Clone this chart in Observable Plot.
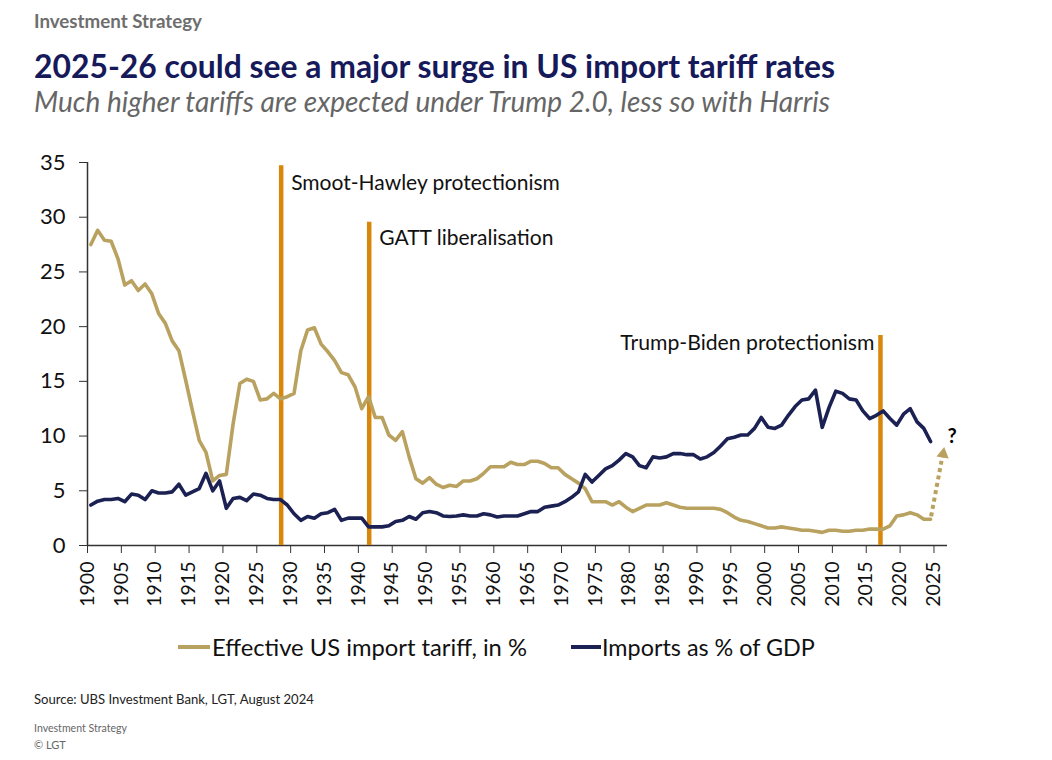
<!DOCTYPE html>
<html>
<head>
<meta charset="utf-8">
<script src="https://cdn.jsdelivr.net/npm/d3@7"></script>
<script src="https://cdn.jsdelivr.net/npm/@observablehq/plot@0.6"></script>
<style>
  body { margin: 0; background: #fff; font-family: Lato, "Open Sans", sans-serif; }
  #page { position: relative; width: 1052px; height: 760px; overflow: hidden; background: #fff; }
  .abs { position: absolute; white-space: nowrap; line-height: 1; }
  #kicker { left: 34px; top: 12px; font-weight: 700; color: #6e6e6e; font-size: 16px; }
  #title { left: 34px; top: 51px; font-weight: 700; color: #16195a; font-size: 29px; }
  #subtitle { left: 34px; top: 87px; font-style: italic; color: #666; font-size: 24px; }
  #chart { position: absolute; left: 0; top: 140px; }
  .sw { position: absolute; height: 4px; }
  .leg { font-size: 20px; color: #111; }
  #source { left: 34px; top: 693px; font-size: 13px; color: #222; }
  #foot1 { left: 34px; top: 723px; font-size: 11px; color: #666; }
  #foot2 { left: 34px; top: 739px; font-size: 11px; color: #666; }
</style>
</head>
<body>
<div id="page">
  <div id="kicker" class="abs">Investment Strategy</div>
  <div id="title" class="abs">2025-26 could see a major surge in US import tariff rates</div>
  <div id="subtitle" class="abs">Much higher tariffs are expected under Trump 2.0, less so with Harris</div>
  <div id="chart"></div>
  <div class="sw" id="sw1" style="left:178px; top:645px; width:32px; background:#b9a15f;"></div>
  <div id="leg1" class="abs leg" style="left:212px; top:636px;">Effective US import tariff, in %</div>
  <div class="sw" id="sw2" style="left:571px; top:645px; width:30px; background:#1b2152;"></div>
  <div id="leg2" class="abs leg" style="left:602px; top:636px;">Imports as % of GDP</div>
  <div id="source" class="abs">Source: UBS Investment Bank, LGT, August 2024</div>
  <div id="foot1" class="abs">Investment Strategy</div>
  <div id="foot2" class="abs">© LGT</div>
</div>
<script>
// ---------- data ----------
const firstYear = 1900;
const tariff = [
  27.5, 28.8, 27.9, 27.8, 26.2, 23.8, 24.2, 23.3, 23.9, 23.0,
  21.2, 20.3, 18.7, 17.8, 15.1, 12.3, 9.6, 8.5, 5.9, 6.4,
  6.5, 11.1, 14.8, 15.2, 15.0, 13.3, 13.4, 13.9, 13.4, 13.6,
  13.9, 17.8, 19.7, 19.9, 18.4, 17.7, 16.9, 15.8, 15.6, 14.5,
  12.5, 13.6, 11.7, 11.7, 10.1, 9.6, 10.4, 8.1, 6.1, 5.7,
  6.2, 5.6, 5.3, 5.5, 5.4, 5.9, 5.9, 6.1, 6.6, 7.2,
  7.2, 7.2, 7.6, 7.4, 7.4, 7.7, 7.7, 7.5, 7.1, 7.1,
  6.5, 6.1, 5.7, 5.2, 4.0, 4.0, 4.0, 3.7, 4.0, 3.5,
  3.1, 3.4, 3.7, 3.7, 3.7, 3.9, 3.7, 3.5, 3.4, 3.4,
  3.4, 3.4, 3.4, 3.3, 3.0, 2.6, 2.3, 2.2, 2.0, 1.8,
  1.6, 1.6, 1.7, 1.6, 1.5, 1.4, 1.4, 1.3, 1.2, 1.4,
  1.4, 1.3, 1.3, 1.4, 1.4, 1.5, 1.5, 1.5, 1.8, 2.7,
  2.8, 3.0, 2.8, 2.4, 2.4
];
const imports = [
  3.7, 4.05, 4.2, 4.2, 4.3, 4.0, 4.7, 4.6, 4.2, 5.0,
  4.8, 4.8, 4.9, 5.6, 4.6, 4.9, 5.2, 6.6, 5.0, 5.9,
  3.4, 4.3, 4.4, 4.1, 4.7, 4.6, 4.3, 4.2, 4.2, 3.7,
  2.9, 2.3, 2.65, 2.5, 2.9, 3.0, 3.3, 2.3, 2.5, 2.5,
  2.5, 1.7, 1.7, 1.7, 1.8, 2.2, 2.3, 2.65, 2.4, 3.0,
  3.1, 3.0, 2.7, 2.65, 2.7, 2.8, 2.7, 2.7, 2.9, 2.8,
  2.6, 2.7, 2.7, 2.7, 2.9, 3.1, 3.1, 3.5, 3.6, 3.7,
  4.0, 4.4, 4.9, 6.5, 5.8, 6.4, 7.0, 7.3, 7.8, 8.4,
  8.1, 7.3, 7.1, 8.1, 8.0, 8.1, 8.4, 8.4, 8.3, 8.3,
  7.9, 8.1, 8.5, 9.1, 9.75, 9.9, 10.1, 10.1, 10.7, 11.7,
  10.8, 10.7, 11.0, 11.9, 12.7, 13.3, 13.4, 14.2, 10.8, 12.6,
  14.1, 13.9, 13.4, 13.3, 12.3, 11.6, 11.9, 12.3, 11.6, 11.0,
  12.0, 12.5, 11.3, 10.7, 9.5
];
// expected tariff jump (dotted arrow): from last observation to the "?" level
const forecastYears = [2024, 2026];
const forecastTariff = [2.4, 9.0];
// policy events
const eventLabels = ["Smoot-Hawley protectionism", "GATT liberalisation", "Trump-Biden protectionism"];
const eventYears = [1928.1, 1941.1, 2016.6];
const eventTops = [34.7, 29.55, 19.2];
const eventLabelLevels = [33.1, 28.05, 18.5];
const xTicks = [1900, 1905, 1910, 1915, 1920, 1925, 1930, 1935, 1940, 1945, 1950, 1955, 1960,
  1965, 1970, 1975, 1980, 1985, 1990, 1995, 2000, 2005, 2010, 2015, 2020, 2025];
const yTicks = [0, 5, 10, 15, 20, 25, 30, 35];
const seriesNames = ["Effective US import tariff, in %", "Imports as % of GDP"];

// ---------- styles ----------
const GOLD = "#b9a15f", NAVY = "#1b2152", ORANGE = "#d8870a";
const FONT = "Lato, 'Open Sans', sans-serif";

// ---------- build rows ----------
const tariffRows = tariff.map((v, i) => ({year: firstYear + i, value: v}));
const importRows = imports.map((v, i) => ({year: firstYear + i, value: v}));
const fc = [{y1: forecastYears[0], v1: forecastTariff[0], y2: forecastYears[1], v2: forecastTariff[1]}];
const events = eventLabels.map((label, i) => ({label, year: eventYears[i], top: eventTops[i], level: eventLabelLevels[i]}));
// categories are drawn at the centre of their yearly slot
const cx = d => d.year + 0.5;

const chart = Plot.plot({
  width: 1052,
  height: 490,
  marginLeft: 87,
  marginRight: 105,
  marginTop: 22,
  marginBottom: 85,
  style: {fontFamily: FONT, color: "#111", background: "transparent", overflow: "visible"},
  x: {domain: [1900, 2027]},
  y: {domain: [0, 35]},
  marks: [
    Plot.axisY({ticks: yTicks, tickSize: 8, tickPadding: 14, fontSize: 22, label: null, stroke: "#333", fill: "#111"}),
    Plot.axisX({ticks: xTicks, tickFormat: d => String(d), tickSize: 8, tickPadding: 8, tickRotate: -90, fontSize: 19.5, label: null, stroke: "#333", fill: "#111"}),
    Plot.ruleX([1900], {stroke: "#333", strokeWidth: 1.5}),
    Plot.ruleY([0], {stroke: "#333", strokeWidth: 1.5}),
    Plot.ruleX(events, {x: cx, y1: 0, y2: "top", stroke: ORANGE, strokeWidth: 4.5}),
    Plot.line(tariffRows, {x: cx, y: "value", stroke: GOLD, strokeWidth: 3.6, strokeLinejoin: "round"}),
    Plot.line(importRows, {x: cx, y: "value", stroke: NAVY, strokeWidth: 3.6, strokeLinejoin: "round"}),
    Plot.arrow(fc, {x1: d => d.y1 + 0.5, y1: "v1", x2: d => d.y2 + 0.5, y2: "v2", stroke: GOLD, strokeWidth: 4,
      strokeDasharray: "4,3.5", strokeLinecap: "butt", headLength: 0, insetStart: 3, insetEnd: 10}),
    Plot.dot(fc, {x: d => d.y2 + 0.5, y: "v2", symbol: "triangle", r: 4.6, fill: GOLD, stroke: "none", rotate: 9, dy: 7, dx: -1}),
    Plot.text(fc, {x: d => d.y2 + 0.5, y: "v2", text: () => "?", dx: 8, dy: -10, fontSize: 20, fontWeight: 700, fill: "#000"}),
    Plot.text(events.slice(0, 2), {x: cx, y: "level", text: "label", textAnchor: "start", dx: 10, fontSize: 21, fill: "#111"}),
    Plot.text(events.slice(2), {x: cx, y: "level", text: "label", textAnchor: "end", dx: -6, fontSize: 21.2, fill: "#111"})
  ]
});
document.getElementById("chart").appendChild(chart);

// fit header / legend / footer text to the widths they occupy in the reference
function fit(id, width) {
  const el = document.getElementById(id);
  const w = el.getBoundingClientRect().width;
  const fs = parseFloat(getComputedStyle(el).fontSize);
  el.style.fontSize = (fs * width / w).toFixed(2) + "px";
}
fit("kicker", 168);
fit("title", 801);
fit("subtitle", 796);
fit("leg1", 315);
fit("leg2", 213);
fit("source", 280);
fit("foot1", 93);
</script>
</body>
</html>
